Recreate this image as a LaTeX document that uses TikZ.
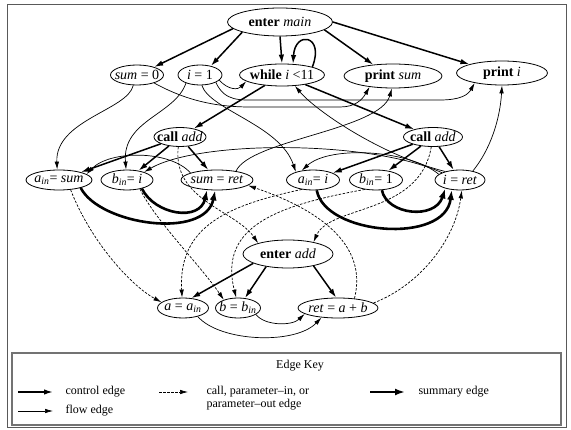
\documentclass[tikz,border=0pt]{standalone}
\usepackage{fontspec}
\setmainfont{Liberation Serif}
\usetikzlibrary{arrows.meta,shapes.geometric}

\newcommand{\vin}[1]{\textit{#1}\textsubscript{\textit{in}}}

\begin{document}
\begin{tikzpicture}[x=10pt,y=-10pt,>={Latex[length=8pt,width=4.5pt]},
    stmt/.style={ellipse,draw,line width=0.8pt,inner xsep=-5pt,inner ysep=0pt,
        minimum height=20pt,font=\fontsize{14}{16}\selectfont},
    ctrl/.style={->,line width=1.5pt,>={Latex[length=9pt,width=5.5pt]}},
    flow/.style={->,line width=0.7pt},
    param/.style={->,line width=0.7pt,dash pattern=on 2.5pt off 1.5pt},
    summ/.style={->,line width=2.6pt,>={Latex[length=10pt,width=7pt]}},
    keytext/.style={font=\fontsize{12}{13}\selectfont}]
    \useasboundingbox (0,0) rectangle (57.1,43);

    % frame and key box
    \draw[black!65,line width=1pt] (0.7,0.5) rectangle (56.6,42.8);
    \draw[black!55,line width=1.5pt] (1.2,35.3) rectangle (56.1,42.5);

    % main
    \node[stmt,minimum width=105pt,minimum height=28pt] (em) at (28,2.2) {\textbf{enter} \textit{main}};
    \node[stmt,minimum width=53pt] (s0) at (13.7,7.5) {\textit{sum} = 0};
    \node[stmt,minimum width=44pt] (i1) at (20,7.5) {\textit{i} = 1};
    \node[stmt,minimum width=85pt,minimum height=22pt] (wh) at (28.2,7.5) {\textbf{while} \textit{i} <11};
    \node[stmt,minimum width=98pt,minimum height=24pt] (prs) at (39.3,7.6) {\textbf{print} \textit{sum}};
    \node[stmt,minimum width=91pt,minimum height=24pt] (pri) at (50.2,7.3) {\textbf{print} \textit{i}};
    \node[stmt,minimum width=52pt,minimum height=19pt] (ca1) at (18,13.7) {\textbf{call} \textit{add}};
    \node[stmt,minimum width=59pt,minimum height=19pt] (ca2) at (43.3,13.7) {\textbf{call} \textit{add}};
    \node[stmt,minimum width=66pt] (ain1) at (5.9,18) {\vin{a}= \textit{sum}};
    \node[stmt,minimum width=52pt] (bin1) at (12.7,18) {\vin{b}= \textit{i}};
    \node[stmt,minimum width=72pt] (sr) at (21.7,18) {\textit{sum} = \textit{ret}};
    \node[stmt,minimum width=53pt] (ain2) at (31.3,18) {\vin{a}= \textit{i}};
    \node[stmt,minimum width=53pt] (bin2) at (37.6,18) {\vin{b}= 1};
    \node[stmt,minimum width=50pt] (ir) at (46,18) {\textit{i} = \textit{ret}};

    % add
    \node[stmt,minimum width=90pt,minimum height=28pt] (ea) at (28.8,25.4) {\textbf{enter} \textit{add}};
    \node[stmt,minimum width=51pt] (aa) at (18.3,30.8) {\textit{a} = \vin{a}};
    \node[stmt,minimum width=45pt] (bb) at (23.8,30.8) {\textit{b} = \vin{b}};
    \node[stmt,minimum width=80pt] (ret) at (33.8,30.8) {\textit{ret} = \textit{a} + \textit{b}};

    % control edges
    \draw[ctrl] (em.188) -- (s0.25);
    \draw[ctrl] (em.195) -- (i1.40);
    \draw[ctrl] (em.south) -- (wh.north);
    \draw[ctrl] (em.-10) -- (prs.150);
    \draw[ctrl] (em.east) -- (pri.165);
    \draw[ctrl] (wh.north east) .. controls (32.5,3.5) and (29.5,3) .. (wh.45);
    \draw[ctrl] (wh) -- (ca1);
    \draw[ctrl] (wh) -- (ca2);
    \draw[ctrl] (ca1) -- (ain1);
    \draw[ctrl] (ca1) -- (bin1);
    \draw[ctrl] (ca1) -- (sr);
    \draw[ctrl] (ca2) -- (ain2);
    \draw[ctrl] (ca2) -- (bin2);
    \draw[ctrl] (ca2) -- (ir);
    \draw[ctrl] (ea.195) -- (aa.50);
    \draw[ctrl] (ea.210) -- (bb.55);
    \draw[ctrl] (ea.-25) -- (ret.100);

    % summary edges
    \draw[summ] (ain1.-20) .. controls (10,22.5) and (20.5,24) .. (sr.-100);
    \draw[summ] (bin1.-30) .. controls (15.5,21.5) and (20,22.2) .. (sr.-135);
    \draw[summ] (ain2.-70) .. controls (32.5,23.5) and (44.5,24.5) .. (ir.-130);
    \draw[summ] (bin2.-60) .. controls (38.7,21.5) and (43.5,22) .. (ir.-150);

    % flow edges
    \draw[flow] (s0.-110) .. controls (12.8,11) and (5.5,12) .. (ain1.100);
    \draw[flow] (s0.-25) .. controls (18.5,10) and (21.5,10.7) .. (25,10.7) -- (34,10.7)
        .. controls (35.5,10.7) and (36.2,10) .. (prs.-155);
    \draw[flow] (i1.-25) .. controls (22.5,10.2) and (24,10) .. (26,10) -- (44,10)
        .. controls (46,10) and (46.8,9.5) .. (pri.-160);
    \draw[flow] (i1.-15) .. controls (22.8,9) and (23.8,9) .. (wh.190);
    \draw[flow] (i1.-80) .. controls (21,11) and (28,12.5) .. (ain2.155);
    \draw[flow] (i1.-150) .. controls (17.5,11.5) and (12.2,12) .. (bin1.95);
    \draw[flow] (sr.165) .. controls (17,15) and (11,15) .. (ain1.12);
    \draw[flow] (sr.25) .. controls (25,14) and (38,13) .. (prs.-95);
    \draw[flow] (ir.150) .. controls (38,15.5) and (31.5,11) .. (wh.-40);
    \draw[flow] (ir.158) .. controls (37,14) and (20,14) .. (bin1.25);
    \draw[flow] (ir.165) .. controls (41,15) and (33,14.5) .. (ain2.140);
    \draw[flow] (ir.35) .. controls (49,15) and (50,12) .. (pri.-90);
    \draw[flow] (aa.-30) .. controls (22,34.2) and (29.5,34.5) .. (ret.-150);
    \draw[flow] (bb.-20) .. controls (26.5,32.6) and (29.2,32.6) .. (ret.-170);

    % call, parameter-in and parameter-out edges
    \draw[param] (ca1.-100) .. controls (17.2,20) and (23.5,21) .. (ea.160);
    \draw[param] (ca2.-100) .. controls (42,21.5) and (33,20.5) .. (ea.25);
    \draw[param] (ain1.-40) .. controls (9,24) and (13,28.5) .. (aa.165);
    \draw[param] (bin1.-35) .. controls (15.5,22) and (20,26.5) .. (bb.150);
    \draw[param] (ain2.-140) .. controls (23,20.5) and (17.8,22.5) .. (aa.95);
    \draw[param] (bin2.-140) .. controls (28,20.5) and (21.8,22.5) .. (bb.100);
    \draw[param] (ret.30) .. controls (36.8,24.5) and (32,21) .. (sr.-10);
    \draw[param] (ret.8) .. controls (42,28.5) and (45.5,24) .. (ir.-80);

    % edge key
    \node[keytext] (key) at (30,36.6) {Edge Key};
    \coordinate (k1a) at (1.8,39.2);
    \coordinate (k1b) at (5.3,39.2);
    \coordinate (k2a) at (1.8,41.1);
    \coordinate (k2b) at (5.3,41.1);
    \coordinate (k3a) at (15.9,39.2);
    \coordinate (k3b) at (18.8,39.2);
    \coordinate (k4a) at (37,39.2);
    \coordinate (k4b) at (40.5,39.2);
    \draw[ctrl] (k1a) -- (k1b);
    \draw[flow] (k2a) -- (k2b);
    \draw[param] (k3a) -- (k3b);
    \draw[summ] (k4a) -- (k4b);
    \node[keytext,anchor=west] (t1) at (6.2,39.2) {control edge};
    \node[keytext,anchor=west] (t2) at (6.2,41.1) {flow edge};
    \node[keytext,anchor=west,align=left] (t3) at (20.3,39.85) {call, parameter--in, or\\parameter--out edge};
    \node[keytext,anchor=west] (t4) at (41.5,39.2) {summary edge};
\end{tikzpicture}
\end{document}
